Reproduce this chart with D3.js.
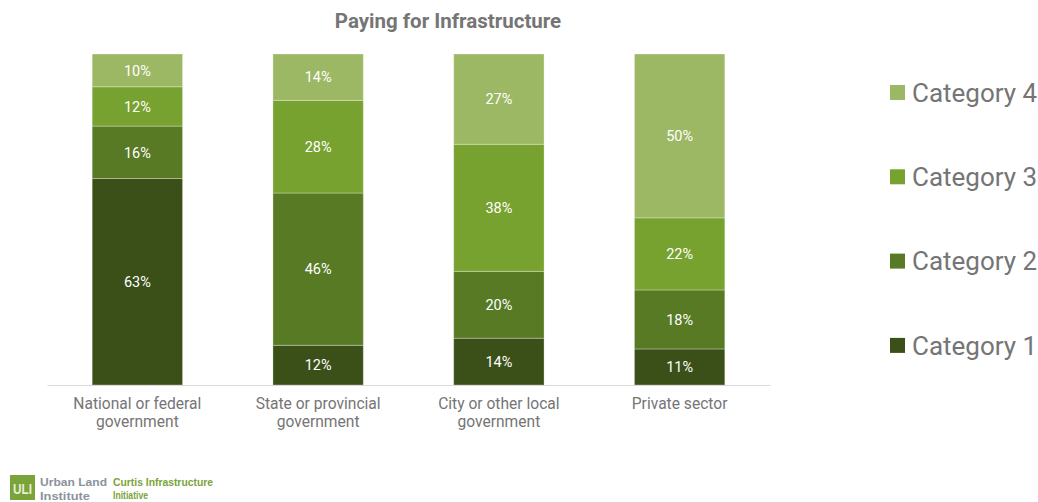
<!DOCTYPE html>
<html>
<head>
<meta charset="utf-8">
<script src="https://cdn.jsdelivr.net/npm/d3@7"></script>
<style>
  html, body { margin: 0; padding: 0; background: #fff; }
  svg { display: block; }
</style>
</head>
<body>
<svg id="chart" width="1038" height="502"></svg>
<script>
// Funding sources (percent of respondents), stacked to 100% per sector
const sectors = [
  "National or federal government",
  "State or provincial government",
  "City or other local government",
  "Private sector"
];
const sectorLines = [
  ["National or federal", "government"],
  ["State or provincial", "government"],
  ["City or other local", "government"],
  ["Private sector"]
];
const seriesNames = ["Category 1", "Category 2", "Category 3", "Category 4"];
const category1 = [63, 12, 14, 11];
const category2 = [16, 46, 20, 18];
const category3 = [12, 28, 38, 22];
const category4 = [10, 14, 27, 50];
const seriesColors = ["#3b5019", "#587a25", "#77a22f", "#9db864"];

const rows = sectors.map((s, i) => ({
  sector: s,
  "Category 1": category1[i],
  "Category 2": category2[i],
  "Category 3": category3[i],
  "Category 4": category4[i]
}));

const svg = d3.select("#chart");
const grey = "#757575";

const x = d3.scaleBand()
  .domain(sectors)
  .range([47, 770])
  .paddingInner(0.5)
  .paddingOuter(0.25);

const y = d3.scaleLinear().domain([0, 1]).range([385, 54]);

const color = d3.scaleOrdinal().domain(seriesNames).range(seriesColors);

const stacked = d3.stack()
  .keys(seriesNames)
  .offset(d3.stackOffsetExpand)(rows);

// Title
svg.append("text")
  .attr("x", 448)
  .attr("y", 28)
  .attr("text-anchor", "middle")
  .attr("font-family", "Roboto, sans-serif")
  .attr("font-weight", "bold")
  .attr("font-size", 20.5)
  .attr("fill", grey)
  .text("Paying for Infrastructure");

// Stacked bars
const layers = svg.append("g").selectAll("g")
  .data(stacked)
  .join("g")
  .attr("fill", d => color(d.key));

layers.selectAll("rect")
  .data(d => d.map(v => Object.assign(v, { key: d.key })))
  .join("rect")
  .attr("x", d => x(d.data.sector))
  .attr("width", x.bandwidth())
  .attr("y", d => y(d[1]))
  .attr("height", d => y(d[0]) - y(d[1]))
  .attr("stroke", "rgba(255,255,255,0.3)")
  .attr("stroke-width", 1);

// Segment value labels
layers.selectAll("text")
  .data(d => d)
  .join("text")
  .attr("x", d => x(d.data.sector) + x.bandwidth() / 2)
  .attr("y", d => (y(d[0]) + y(d[1])) / 2)
  .attr("dy", "0.36em")
  .attr("text-anchor", "middle")
  .attr("font-family", "Roboto, sans-serif")
  .attr("font-size", 14.5)
  .attr("fill", "#ffffff")
  .text(d => d.data[d.key] + "%");

// Baseline axis
const axis = svg.append("g")
  .attr("transform", `translate(0,${y(0)})`)
  .call(d3.axisBottom(x).tickSize(0).tickFormat(""));
axis.select(".domain").attr("stroke", "#d9d9d9").attr("stroke-width", 1.2);

// Category labels under each bar (two lines)
sectors.forEach((s, i) => {
  const t = svg.append("text")
    .attr("x", x(s) + x.bandwidth() / 2)
    .attr("y", 409)
    .attr("text-anchor", "middle")
    .attr("font-family", "Roboto, sans-serif")
    .attr("font-size", 15.6)
    .attr("fill", grey);
  sectorLines[i].forEach((line, j) => {
    t.append("tspan")
      .attr("x", x(s) + x.bandwidth() / 2)
      .attr("dy", j === 0 ? 0 : 17.5)
      .text(line);
  });
});

// Legend (top to bottom: Category 4 … Category 1)
const legendOrder = seriesNames.slice().reverse();
const legend = svg.append("g").selectAll("g")
  .data(legendOrder)
  .join("g")
  .attr("transform", (d, i) => `translate(890,${92.5 + i * 84.3})`);
legend.append("rect")
  .attr("x", 0).attr("y", -7.5)
  .attr("width", 15).attr("height", 15)
  .attr("fill", d => color(d));
legend.append("text")
  .attr("x", 22)
  .attr("y", 9.3)
  .attr("font-family", "Roboto, sans-serif")
  .attr("font-size", 26)
  .attr("fill", grey)
  .text(d => d);

// Footer logo
const logoFont = "'Liberation Sans Narrow', 'Liberation Sans', sans-serif";
const logo = svg.append("g").attr("font-family", logoFont).attr("font-weight", "bold");
logo.append("rect")
  .attr("x", 10).attr("y", 475).attr("width", 25).attr("height", 25)
  .attr("fill", "#7aa33a");
logo.append("text")
  .attr("x", 22.5).attr("y", 494)
  .attr("text-anchor", "middle")
  .attr("font-size", 14)
  .attr("textLength", 19)
  .attr("lengthAdjust", "spacingAndGlyphs")
  .attr("fill", "#e6efd5")
  .text("ULI");
logo.append("text")
  .attr("x", 40).attr("y", 486)
  .attr("font-size", 11.5)
  .attr("textLength", 67)
  .attr("lengthAdjust", "spacingAndGlyphs")
  .attr("fill", "#8c929b")
  .text("Urban Land");
logo.append("text")
  .attr("x", 40).attr("y", 499.5)
  .attr("font-size", 11.5)
  .attr("textLength", 50)
  .attr("lengthAdjust", "spacingAndGlyphs")
  .attr("fill", "#8c929b")
  .text("Institute");
logo.append("text")
  .attr("x", 113).attr("y", 486)
  .attr("font-size", 10.5)
  .attr("textLength", 100)
  .attr("lengthAdjust", "spacingAndGlyphs")
  .attr("fill", "#7aa33a")
  .text("Curtis Infrastructure");
logo.append("text")
  .attr("x", 113).attr("y", 498.5)
  .attr("font-size", 10.5)
  .attr("textLength", 35)
  .attr("lengthAdjust", "spacingAndGlyphs")
  .attr("fill", "#7aa33a")
  .text("Initiative");
</script>
</body>
</html>
